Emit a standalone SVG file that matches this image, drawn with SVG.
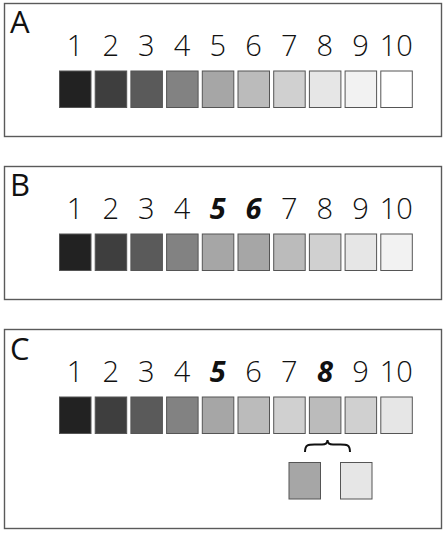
<svg xmlns="http://www.w3.org/2000/svg" width="445" height="535" viewBox="0 0 445 535">
<style>
.panel{fill:#fff;stroke:#5a5a5a;stroke-width:1.4}
.sq{stroke:#555;stroke-width:1}
.num{font-family:"Open Sans","Liberation Sans",sans-serif;font-weight:300;font-size:29px;text-anchor:middle;fill:#111}
.hi{font-weight:700;font-style:italic}
.lab{font-family:"Open Sans","Liberation Sans",sans-serif;font-size:31px;fill:#111}
</style>
<rect width="445" height="535" fill="#fff"/>
<g id="panelA">
<rect class="panel" x="4.5" y="3.5" width="437" height="133"/>
<text class="lab" x="10" y="33">A</text>
<g class="num">
<text x="75" y="56">1</text><text x="110.7" y="56">2</text><text x="146.4" y="56">3</text><text x="182.1" y="56">4</text><text x="217.8" y="56">5</text><text x="253.5" y="56">6</text><text x="289.2" y="56">7</text><text x="324.9" y="56">8</text><text x="360.6" y="56">9</text><text x="396.3" y="56">10</text>
</g>
<g>
<rect class="sq" x="59.5" y="71" width="31.5" height="36.5" fill="#222"/>
<rect class="sq" x="95.2" y="71" width="31.5" height="36.5" fill="#3e3e3e"/>
<rect class="sq" x="130.9" y="71" width="31.5" height="36.5" fill="#5a5a5a"/>
<rect class="sq" x="166.6" y="71" width="31.5" height="36.5" fill="#828282"/>
<rect class="sq" x="202.3" y="71" width="31.5" height="36.5" fill="#a6a6a6"/>
<rect class="sq" x="238" y="71" width="31.5" height="36.5" fill="#bbbbbb"/>
<rect class="sq" x="273.7" y="71" width="31.5" height="36.5" fill="#d0d0d0"/>
<rect class="sq" x="309.4" y="71" width="31.5" height="36.5" fill="#e6e6e6"/>
<rect class="sq" x="345.1" y="71" width="31.5" height="36.5" fill="#f2f2f2"/>
<rect class="sq" x="380.8" y="71" width="31.5" height="36.5" fill="#ffffff"/>
</g>
</g>
<g id="panelB">
<rect class="panel" x="4.5" y="166.5" width="437" height="133"/>
<text class="lab" x="10" y="196">B</text>
<g class="num">
<text x="75" y="218.5">1</text><text x="110.7" y="218.5">2</text><text x="146.4" y="218.5">3</text><text x="182.1" y="218.5">4</text><text class="hi" x="217.8" y="218.5">5</text><text class="hi" x="253.5" y="218.5">6</text><text x="289.2" y="218.5">7</text><text x="324.9" y="218.5">8</text><text x="360.6" y="218.5">9</text><text x="396.3" y="218.5">10</text>
</g>
<g>
<rect class="sq" x="59.5" y="234" width="31.5" height="36.5" fill="#222"/>
<rect class="sq" x="95.2" y="234" width="31.5" height="36.5" fill="#3e3e3e"/>
<rect class="sq" x="130.9" y="234" width="31.5" height="36.5" fill="#5a5a5a"/>
<rect class="sq" x="166.6" y="234" width="31.5" height="36.5" fill="#828282"/>
<rect class="sq" x="202.3" y="234" width="31.5" height="36.5" fill="#a6a6a6"/>
<rect class="sq" x="238" y="234" width="31.5" height="36.5" fill="#a6a6a6"/>
<rect class="sq" x="273.7" y="234" width="31.5" height="36.5" fill="#bbbbbb"/>
<rect class="sq" x="309.4" y="234" width="31.5" height="36.5" fill="#d0d0d0"/>
<rect class="sq" x="345.1" y="234" width="31.5" height="36.5" fill="#e6e6e6"/>
<rect class="sq" x="380.8" y="234" width="31.5" height="36.5" fill="#f2f2f2"/>
</g>
</g>
<g id="panelC">
<rect class="panel" x="4.5" y="329.5" width="437" height="199"/>
<text class="lab" x="10" y="360">C</text>
<g class="num">
<text x="75" y="382">1</text><text x="110.7" y="382">2</text><text x="146.4" y="382">3</text><text x="182.1" y="382">4</text><text class="hi" x="217.8" y="382">5</text><text x="253.5" y="382">6</text><text x="289.2" y="382">7</text><text class="hi" x="324.9" y="382">8</text><text x="360.6" y="382">9</text><text x="396.3" y="382">10</text>
</g>
<g>
<rect class="sq" x="59.5" y="397" width="31.5" height="36.5" fill="#222"/>
<rect class="sq" x="95.2" y="397" width="31.5" height="36.5" fill="#3e3e3e"/>
<rect class="sq" x="130.9" y="397" width="31.5" height="36.5" fill="#5a5a5a"/>
<rect class="sq" x="166.6" y="397" width="31.5" height="36.5" fill="#828282"/>
<rect class="sq" x="202.3" y="397" width="31.5" height="36.5" fill="#a6a6a6"/>
<rect class="sq" x="238" y="397" width="31.5" height="36.5" fill="#bbbbbb"/>
<rect class="sq" x="273.7" y="397" width="31.5" height="36.5" fill="#d0d0d0"/>
<rect class="sq" x="309.4" y="397" width="31.5" height="36.5" fill="#bbbbbb"/>
<rect class="sq" x="345.1" y="397" width="31.5" height="36.5" fill="#d0d0d0"/>
<rect class="sq" x="380.8" y="397" width="31.5" height="36.5" fill="#e6e6e6"/>
</g>
<g id="connectors">
<path d="M305,452 C305,444 309,444.5 316,444.5 L322,444.5 C326,444.5 327.5,443 327.5,440 C327.5,443 329,444.5 333,444.5 L339,444.5 C346,444.5 350,444 350,452" fill="none" stroke="#111" stroke-width="2"/>
</g>
<rect class="sq" x="289" y="462.5" width="31.5" height="36.5" fill="#a6a6a6"/>
<rect class="sq" x="340.5" y="462.5" width="31.5" height="36.5" fill="#e6e6e6"/>
</g>
</svg>
